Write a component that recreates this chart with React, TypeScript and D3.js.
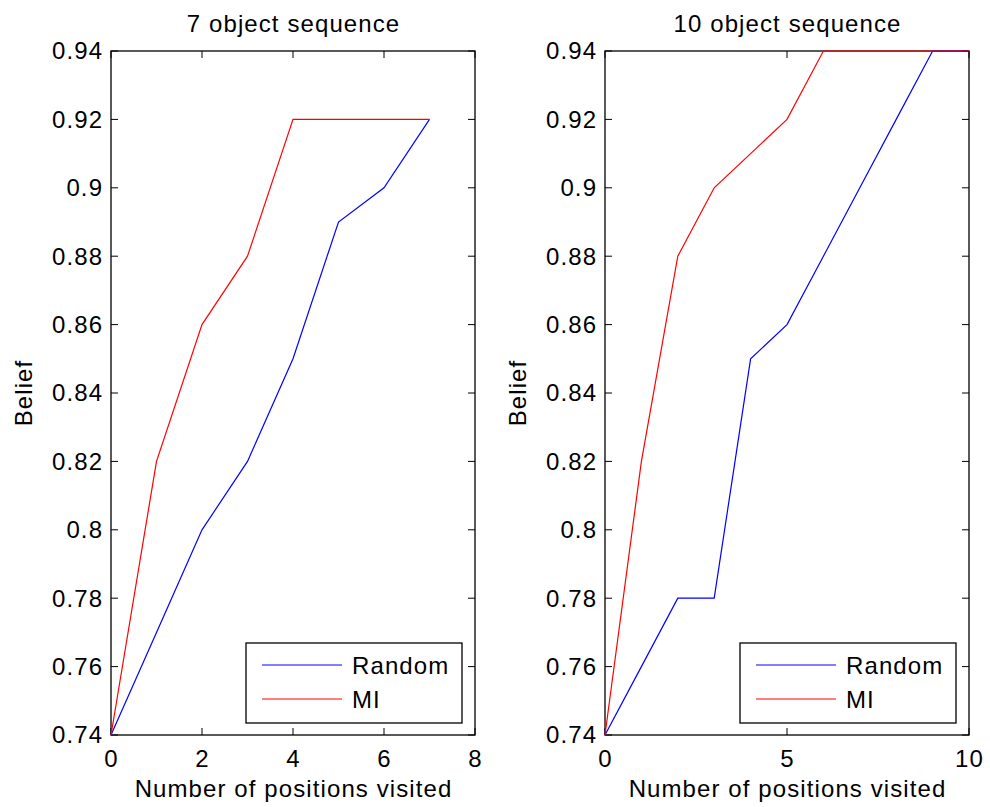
import React from "react";
import * as d3 from "d3";

const yTicks = [0.74, 0.76, 0.78, 0.8, 0.82, 0.84, 0.86, 0.88, 0.9, 0.92, 0.94];
const yTickLabels = ["0.74", "0.76", "0.78", "0.8", "0.82", "0.84", "0.86", "0.88", "0.9", "0.92", "0.94"];

const leftX = [0, 1, 2, 3, 4, 5, 6, 7];
const leftRandom = [0.74, 0.77, 0.8, 0.82, 0.85, 0.89, 0.9, 0.92];
const leftMI = [0.74, 0.82, 0.86, 0.88, 0.92, 0.92, 0.92, 0.92];
const leftXTicks = [0, 2, 4, 6, 8];

const rightX = [0, 1, 2, 3, 4, 5, 6, 7, 8, 9, 10];
const rightRandom = [0.74, 0.76, 0.78, 0.78, 0.85, 0.86, 0.88, 0.9, 0.92, 0.94, 0.94];
const rightMI = [0.74, 0.82, 0.88, 0.9, 0.91, 0.92, 0.94, 0.94, 0.94, 0.94, 0.94];
const rightXTicks = [0, 5, 10];

const titles = ["7 object sequence", "10 object sequence"];
const seriesNames = ["Random", "MI"];
const seriesColors = ["#0000ff", "#ff0000"];

const FONT = "'Liberation Sans', Arial, Helvetica, sans-serif";
const FS = 24;
const LS = 1.1;

type PanelProps = {
  left: number;
  width: number;
  top: number;
  height: number;
  xs: number[];
  random: number[];
  mi: number[];
  xTicks: number[];
  xMax: number;
  title: string;
};

function Panel({ left, width, top, height, xs, random, mi, xTicks, xMax, title }: PanelProps) {
  const x = d3.scaleLinear().domain([0, xMax]).range([left, left + width]);
  const y = d3.scaleLinear().domain([0.74, 0.94]).range([top + height, top]);
  const line = d3
    .line<[number, number]>()
    .x((d) => x(d[0]))
    .y((d) => y(d[1]));
  const tl = 7;
  const series = [random, mi];
  const legX = left + width - 229;
  const legY = top + height - 92;
  const txt = { fontSize: FS, fontFamily: FONT, letterSpacing: LS } as const;
  return (
    <g>
      <rect x={left} y={top} width={width} height={height} fill="white" />
      <text x={left + width / 2 + LS / 2} y={top - 19} textAnchor="middle" {...txt}>
        {title}
      </text>
      {yTicks.map((t, i) => (
        <g key={"y" + i}>
          <line x1={left} x2={left + tl} y1={y(t)} y2={y(t)} stroke="black" strokeWidth={1} />
          <line x1={left + width - tl} x2={left + width} y1={y(t)} y2={y(t)} stroke="black" strokeWidth={1} />
          <text x={left - 9 + LS} y={y(t)} dy="0.35em" textAnchor="end" {...txt}>
            {yTickLabels[i]}
          </text>
        </g>
      ))}
      {xTicks.map((t, i) => (
        <g key={"x" + i}>
          <line x1={x(t)} x2={x(t)} y1={top + height} y2={top + height - tl} stroke="black" strokeWidth={1} />
          <line x1={x(t)} x2={x(t)} y1={top} y2={top + tl} stroke="black" strokeWidth={1} />
          <text x={x(t) + LS / 2} y={top + height + 32} textAnchor="middle" {...txt}>
            {String(t)}
          </text>
        </g>
      ))}
      <rect x={left} y={top} width={width} height={height} fill="none" stroke="black" strokeWidth={1.3} />
      {series.map((s, i) => (
        <path
          key={"s" + i}
          d={line(xs.map((v, j) => [v, s[j]] as [number, number])) || ""}
          fill="none"
          stroke={seriesColors[i]}
          strokeWidth={1.2}
        />
      ))}
      <text x={left + width / 2 + LS / 2} y={top + height + 62} textAnchor="middle" {...txt}>
        Number of positions visited
      </text>
      <text
        transform={`translate(${left - 79},${top + height / 2}) rotate(-90)`}
        textAnchor="middle"
        {...txt}
      >
        Belief
      </text>
      <rect x={legX} y={legY} width={216} height={80} fill="white" stroke="black" strokeWidth={1.3} />
      {seriesNames.map((n, i) => (
        <g key={"l" + i}>
          <line
            x1={legX + 16}
            x2={legX + 96}
            y1={legY + 22 + i * 34}
            y2={legY + 22 + i * 34}
            stroke={seriesColors[i]}
            strokeWidth={1.2}
          />
          <text x={legX + 106} y={legY + 22 + i * 34} dy="0.36em" {...txt}>
            {n}
          </text>
        </g>
      ))}
    </g>
  );
}

export default function App() {
  return (
    <svg width={990} height={807} style={{ position: "absolute", left: 0, top: 0, background: "white" }}>
      <rect x={0} y={0} width={990} height={807} fill="white" />
      <Panel left={111} width={364} top={51} height={684} xs={leftX} random={leftRandom} mi={leftMI} xTicks={leftXTicks} xMax={8} title={titles[0]} />
      <Panel left={605} width={364} top={51} height={684} xs={rightX} random={rightRandom} mi={rightMI} xTicks={rightXTicks} xMax={10} title={titles[1]} />
    </svg>
  );
}
